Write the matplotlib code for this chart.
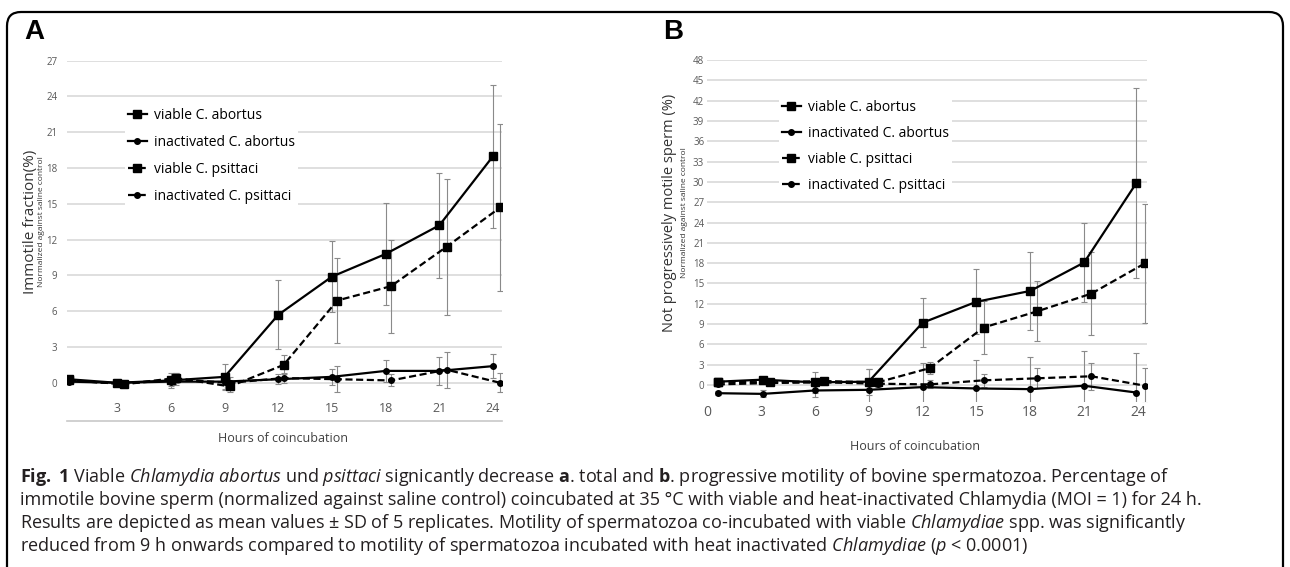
import matplotlib
matplotlib.use('Agg')
import matplotlib.pyplot as plt
from matplotlib.patches import FancyBboxPatch

plt.rcParams['font.family'] = ['Open Sans', 'DejaVu Sans']
plt.rcParams['mathtext.fontset'] = 'custom'
plt.rcParams['mathtext.rm'] = 'Open Sans'
plt.rcParams['mathtext.it'] = 'Open Sans:italic'
plt.rcParams['mathtext.bf'] = 'Open Sans:bold'

# ---- data ----
# panel A: immotile fraction (%)
hours_abortus_a = [0.3, 3, 6, 9, 12, 15, 18, 21, 24]
hours_psittaci_a = [0.3, 3.4, 6.3, 9.3, 12.3, 15.3, 18.3, 21.4, 24.4]
viable_abortus_a = [0.3, 0.0, 0.2, 0.5, 5.7, 8.9, 10.8, 13.2, 19.0]
viable_abortus_a_sd = [0.2, 0.3, 0.6, 1.1, 2.9, 3.0, 4.3, 4.4, 6.0]
inact_abortus_a = [0.1, 0.0, 0.1, 0.1, 0.3, 0.5, 1.0, 1.0, 1.4]
inact_abortus_a_sd = [0.1, 0.2, 0.4, 0.6, 0.4, 0.7, 0.9, 1.2, 1.0]
viable_psittaci_a = [0.2, -0.1, 0.4, -0.3, 1.5, 6.9, 8.1, 11.4, 14.7]
viable_psittaci_a_sd = [0.1, 0.3, 0.4, 0.5, 0.8, 3.6, 3.9, 5.7, 7.0]
inact_psittaci_a = [0.2, -0.1, 0.3, 0.0, 0.4, 0.3, 0.2, 1.1, 0.0]
inact_psittaci_a_sd = [0.1, 0.2, 0.5, 0.5, 0.4, 1.1, 0.5, 1.5, 0.8]

# panel B: not progressively motile sperm (%)
hours_abortus_b = [0.6, 3.1, 6.0, 9.0, 12.0, 15.0, 18.0, 21.0, 23.9]
hours_psittaci_b = [0.6, 3.5, 6.5, 9.5, 12.4, 15.4, 18.4, 21.4, 24.4]
viable_abortus_b = [0.5, 0.8, 0.4, 0.5, 9.2, 12.3, 13.9, 18.1, 29.8]
viable_abortus_b_sd = [0.3, 0.4, 1.5, 1.9, 3.6, 4.8, 5.7, 5.8, 14.0]
inact_abortus_b = [-1.2, -1.3, -0.8, -0.7, -0.3, -0.5, -0.6, -0.1, -1.1]
inact_abortus_b_sd = [0.3, 0.5, 1.0, 3.0, 3.5, 4.2, 4.8, 5.1, 5.8]
viable_psittaci_b = [0.5, 0.4, 0.6, 0.4, 2.5, 8.5, 10.9, 13.5, 18.0]
viable_psittaci_b_sd = [0.3, 0.4, 0.5, 0.6, 0.9, 3.9, 4.4, 6.1, 8.8]
inact_psittaci_b = [0.1, 0.3, 0.4, 0.2, 0.1, 0.7, 1.0, 1.3, -0.1]
inact_psittaci_b_sd = [0.1, 0.3, 0.4, 0.5, 0.6, 1.0, 1.5, 2.0, 2.6]

labels = ['viable C. abortus', 'inactivated C. abortus',
          'viable C. psittaci', 'inactivated C. psittaci']
xticks_a = [3, 6, 9, 12, 15, 18, 21, 24]
xticks_b = [0, 3, 6, 9, 12, 15, 18, 21, 24]
yticks_a = list(range(0, 28, 3))
yticks_b = list(range(0, 49, 3))

W, H = 1290, 567
fig = plt.figure(figsize=(W / 100, H / 100), dpi=100)

def fx(x):
    return x / W

def fy(y):
    return 1 - y / H

DASH = (0, (3.2, 1.6))

def draw_series(ax, x, y, sd, ls, marker, ms, label):
    ax.errorbar(x, y, yerr=sd, fmt='none', ecolor='#8a8a8a', elinewidth=0.8,
                capsize=2, capthick=0.8, zorder=2)
    ax.plot(x, y, color='black', ls=ls, lw=1.6, marker=marker, ms=ms,
            mfc='black', mec='black', label=label, zorder=3)

def style_axes(ax, yticks, ytick_pad):
    ax.set_yticks(yticks)
    ax.grid(axis='y', color='#d9d9d9', lw=1.2, zorder=0)
    ax.set_axisbelow(True)
    for s in ax.spines.values():
        s.set_visible(False)
    ax.tick_params(axis='both', length=0, colors='#595959')
    ax.tick_params(axis='y', labelsize=7, pad=ytick_pad)

def white_legend(ax, anchor, spacing):
    leg = ax.legend(loc='upper left', bbox_to_anchor=anchor,
                    bbox_transform=fig.transFigure, frameon=True, fontsize=10,
                    handlelength=1.4, handletextpad=0.5, labelspacing=spacing,
                    borderpad=0.2, fancybox=False)
    leg.get_frame().set_edgecolor('none')
    leg.get_frame().set_facecolor('white')
    leg.get_frame().set_alpha(1)
    return leg

# ---- panel A ----
axA = fig.add_axes([fx(67), fy(421), fx(502) - fx(67), (421 - 60.7) / H])
draw_series(axA, hours_abortus_a, viable_abortus_a, viable_abortus_a_sd, '-', 's', 5.5, labels[0])
draw_series(axA, hours_abortus_a, inact_abortus_a, inact_abortus_a_sd, '-', 'o', 4, labels[1])
draw_series(axA, hours_psittaci_a, viable_psittaci_a, viable_psittaci_a_sd, DASH, 's', 5.5, labels[2])
draw_series(axA, hours_psittaci_a, inact_psittaci_a, inact_psittaci_a_sd, DASH, 'o', 4, labels[3])
axA.set_xlim(0.2, 24.5)
axA.set_ylim(-3.2, 27)
style_axes(axA, yticks_a, 7)
axA.set_xticks(xticks_a)
axA.tick_params(axis='x', labelsize=9, pad=-14)
axA.spines['bottom'].set_visible(True)
axA.spines['bottom'].set_color('#c8c8c8')
axA.spines['bottom'].set_linewidth(1.2)
white_legend(axA, (fx(118), fy(98)), 0.87)

# ---- panel B ----
axB = fig.add_axes([fx(707), fy(402), fx(1147) - fx(707), (402 - 60) / H])
draw_series(axB, hours_abortus_b, viable_abortus_b, viable_abortus_b_sd, '-', 's', 5.5, labels[0])
draw_series(axB, hours_abortus_b, inact_abortus_b, inact_abortus_b_sd, '-', 'o', 4, labels[1])
draw_series(axB, hours_psittaci_b, viable_psittaci_b, viable_psittaci_b_sd, DASH, 's', 5.5, labels[2])
draw_series(axB, hours_psittaci_b, inact_psittaci_b, inact_psittaci_b_sd, DASH, 'o', 4, labels[3])
axB.set_xlim(0, 24.5)
axB.set_ylim(-2.5, 48)
style_axes(axB, yticks_b, 2)
axB.set_xticks(xticks_b)
axB.tick_params(axis='x', labelsize=10, pad=2)
white_legend(axB, (fx(772), fy(90)), 0.8)

# ---- axis titles ----
fig.text(fx(283), fy(438), 'Hours of coincubation', fontsize=9, ha='center', va='center', color='#404040')
fig.text(fx(915), fy(447), 'Hours of coincubation', fontsize=9, ha='center', va='center', color='#404040')
fig.text(fx(31), fy(222), 'Immotile fraction(%)', fontsize=11, rotation=90, ha='center', va='center', color='#333333')
fig.text(fx(41.5), fy(222), 'Normalized against saline control', fontsize=6, rotation=90, ha='center', va='center', color='#333333')
fig.text(fx(669), fy(213), 'Not progressively motile sperm (%)', fontsize=10.5, rotation=90, ha='center', va='center', color='#333333')
fig.text(fx(684), fy(213), 'Normalized against saline control', fontsize=6, rotation=90, ha='center', va='center', color='#333333')

# panel letters
fig.text(fx(24), fy(32), 'A', fontsize=20, fontweight='bold', family='Liberation Sans', va='center')
fig.text(fx(663), fy(32), 'B', fontsize=20, fontweight='bold', family='Liberation Sans', va='center')

# ---- caption ----
caption = [
    r"$\mathbf{Fig.}$ $\mathbf{1}$ Viable $\mathit{Chlamydia}$ $\mathit{abortus}$ und $\mathit{psittaci}$ signicantly decrease $\mathbf{a}$. total and $\mathbf{b}$. progressive motility of bovine spermatozoa. Percentage of",
    "immotile bovine sperm (normalized against saline control) coincubated at 35 °C with viable and heat-inactivated Chlamydia (MOI = 1) for 24 h.",
    r"Results are depicted as mean values ± SD of 5 replicates. Motility of spermatozoa co-incubated with viable $\mathit{Chlamydiae}$ spp. was significantly",
    r"reduced from 9 h onwards compared to motility of spermatozoa incubated with heat inactivated $\mathit{Chlamydiae}$ ($\mathit{p}$ < 0.0001)",
]
for i, line in enumerate(caption):
    fig.text(fx(20), fy(477 + 23 * i), line, fontsize=13, va='center', ha='left', color='#231f20')

# rounded frame (bottom edge runs off the page)
frame = FancyBboxPatch((0.07, -0.5), 12.76, 6.05,
                       boxstyle='round,pad=0,rounding_size=0.14',
                       transform=fig.dpi_scale_trans, fill=False, lw=1.6, ec='black')
fig.add_artist(frame)

fig.savefig('out.png', dpi=100)
